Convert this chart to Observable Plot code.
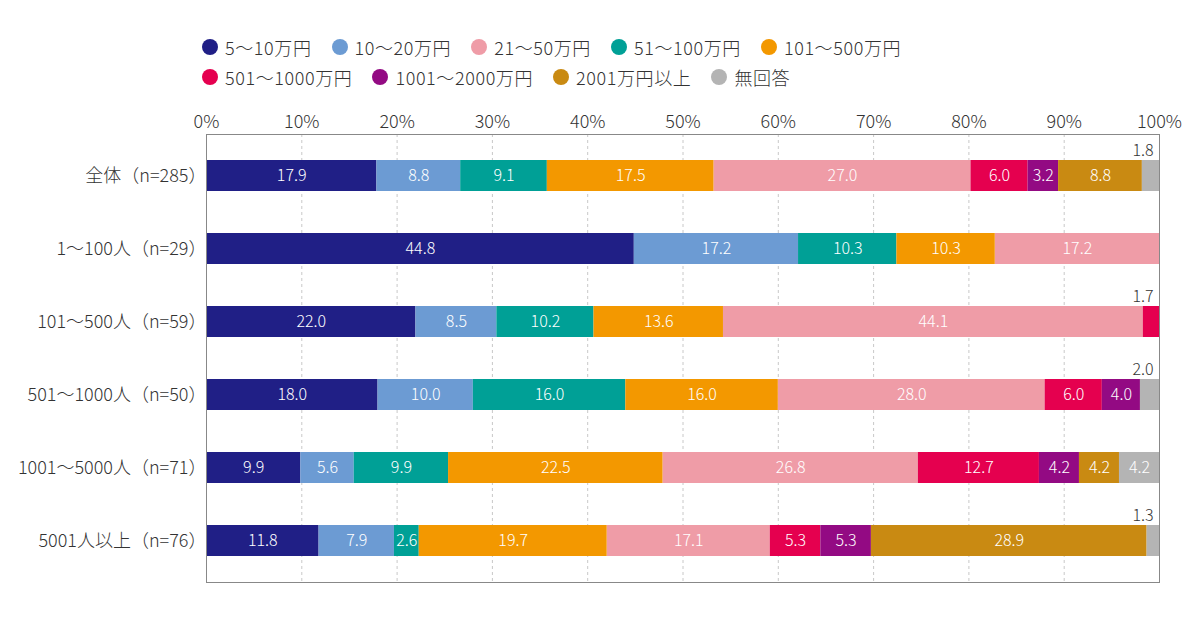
<!DOCTYPE html>
<html>
<head>
<meta charset="utf-8">
<script src="https://cdn.jsdelivr.net/npm/d3@7"></script>
<script src="https://cdn.jsdelivr.net/npm/@observablehq/plot@0.6"></script>
<style>
  html, body { margin: 0; padding: 0; background: #fff; }
  body { width: 1200px; height: 617px; position: relative; font-family: "Noto Sans CJK JP", "Noto Sans", sans-serif; color: #333; }
  #legend { position: absolute; left: 202px; top: 32px; }
  .lrow { display: flex; align-items: center; height: 30px; }
  .litem { display: flex; align-items: center; margin-right: 20px; font-size: 18px; letter-spacing: 0.6px; font-weight: 300; white-space: nowrap; }
  .dot { width: 16px; height: 16px; border-radius: 50%; margin-right: 7px; }
  #chart { position: absolute; left: 0; top: 100px; }
</style>
</head>
<body>
<div id="legend"></div>
<div id="chart"></div>
<script>
const groups = ["全体（n=285）", "1～100人（n=29）", "101～500人（n=59）", "501～1000人（n=50）", "1001～5000人（n=71）", "5001人以上（n=76）"];
const categories = ["5～10万円", "10～20万円", "21～50万円", "51～100万円", "101～500万円", "501～1000万円", "1001～2000万円", "2001万円以上", "無回答"];
const colors = ["#201f86", "#6c9bd3", "#ef9ca7", "#00a096", "#f39800", "#e5004f", "#930a83", "#c98a12", "#b4b4b4"];
// stacking order as drawn in the bars
const stackOrder = ["5～10万円", "10～20万円", "51～100万円", "101～500万円", "21～50万円", "501～1000万円", "1001～2000万円", "2001万円以上", "無回答"];

const v5_10     = [17.9, 44.8, 22.0, 18.0,  9.9, 11.8];
const v10_20    = [ 8.8, 17.2,  8.5, 10.0,  5.6,  7.9];
const v21_50    = [27.0, 17.2, 44.1, 28.0, 26.8, 17.1];
const v51_100   = [ 9.1, 10.3, 10.2, 16.0,  9.9,  2.6];
const v101_500  = [17.5, 10.3, 13.6, 16.0, 22.5, 19.7];
const v501_1000 = [ 6.0,  0,    1.7,  6.0, 12.7,  5.3];
const v1001_2000= [ 3.2,  0,    0,    4.0,  4.2,  5.3];
const v2001     = [ 8.8,  0,    0,    0,    4.2, 28.9];
const vNA       = [ 1.8,  0,    0,    2.0,  4.2,  1.3];
const xTicks = [0, 10, 20, 30, 40, 50, 60, 70, 80, 90, 100];
const gridTicks = [10, 20, 30, 40, 50, 60, 70, 80, 90];

const series = [v5_10, v10_20, v21_50, v51_100, v101_500, v501_1000, v1001_2000, v2001, vNA];
const table = [];
groups.forEach((g, gi) => {
  categories.forEach((c, ci) => {
    const v = series[ci][gi];
    if (v > 0) table.push({group: g, cat: c, value: v});
  });
});

// legend
const legend = document.getElementById("legend");
const rows = [categories.slice(0, 5), categories.slice(5)];
rows.forEach(r => {
  const row = document.createElement("div");
  row.className = "lrow";
  r.forEach(c => {
    const it = document.createElement("div");
    it.className = "litem";
    const dot = document.createElement("span");
    dot.className = "dot";
    dot.style.background = colors[categories.indexOf(c)];
    it.appendChild(dot);
    it.appendChild(document.createTextNode(c));
    row.appendChild(it);
  });
  legend.appendChild(row);
});

const stackOpts = {x: "value", y: "group", z: "cat", order: stackOrder, offset: "normalize"};

const chart = Plot.plot({
  width: 1200,
  height: 517,
  marginTop: 34,
  marginBottom: 35,
  marginLeft: 206,
  marginRight: 41,
  style: {fontFamily: "'Noto Sans CJK JP', 'Noto Sans', sans-serif", fontSize: "18px", fontWeight: 300, color: "#333", background: "white"},
  x: {domain: [0, 1], axis: "top", ticks: xTicks.map(d => d / 100), tickFormat: d => Math.round(d * 100) + "%", tickSize: 0, tickPadding: 7, label: null},
  y: {domain: groups, paddingInner: 0.578, paddingOuter: 0.34, tickSize: 0, tickPadding: 0, label: null},
  color: {domain: categories, range: colors},
  marks: [
    Plot.ruleX(gridTicks.map(d => d / 100), {stroke: "#c8c8c8", strokeDasharray: "3,3"}),
    Plot.barX(table, Plot.stackX({...stackOpts, fill: "cat"})),
    Plot.text(table, Plot.stackX({...stackOpts, text: d => d.value >= 2.5 ? d.value.toFixed(1) : "", fill: "white", fontSize: 16, fontWeight: 300})),
    Plot.text(table, Plot.stackX2({...stackOpts, text: d => d.value < 2.5 ? d.value.toFixed(1) : "", fill: "#333", fontSize: 16, fontWeight: 300, textAnchor: "end", dx: -6, dy: -25})),
    Plot.frame({stroke: "#888"})
  ]
});
document.getElementById("chart").appendChild(chart);
</script>
</body>
</html>
